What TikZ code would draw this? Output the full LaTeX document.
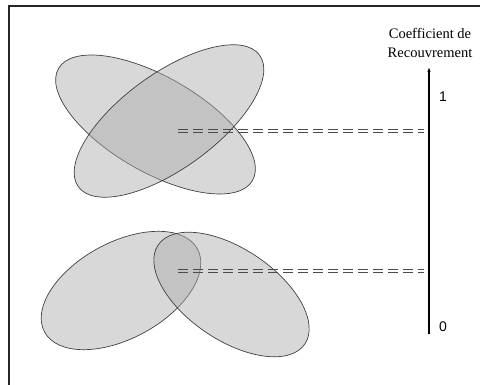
\documentclass[tikz,border=0pt]{standalone}
\usepackage{fontspec}
\setmainfont{Liberation Serif}
\setsansfont{Liberation Sans}
\usetikzlibrary{arrows.meta}
\definecolor{blobfill}{RGB}{170,170,170}
\definecolor{outline}{RGB}{65,65,65}
\definecolor{levelgray}{RGB}{75,75,75}
\tikzset{%
  blob/.style={draw=outline, line width=0.7pt, fill=blobfill, fill opacity=0.46},% overlapping set
  level/.style={draw=levelgray, line width=1pt, dash pattern=on 9.5pt off 5.5pt},% level line to the axis
  tick/.style={font=\sffamily\fontsize{14}{16}\selectfont},% value on the axis
  frame/.style={line width=2.4pt, black!85}% cut border of the figure
}

\begin{document}
\begin{tikzpicture}[x=1pt, y=-1pt]
\useasboundingbox (0,0) rectangle (480,385);
\draw[frame] (9,387) -- (9,6) -- (482,6);

% strong overlap
\draw[blob, shift={(155.5,124.5)}, rotate=-30] (0,0) ellipse [x radius=112, y radius=47.5];
\draw[blob, shift={(169,121)}, rotate=36] (0,0) ellipse [x radius=112, y radius=47.5];
% weak overlap
\draw[blob, shift={(121,290.5)}, rotate=28.5] (0,0) ellipse [x radius=87, y radius=48];
\draw[blob, shift={(231.5,294.5)}, rotate=-34] (0,0) ellipse [x radius=88.5, y radius=45.6];

\coordinate (hiL) at (178,131);
\coordinate (hiR) at (424,131);
\coordinate (loL) at (178,271);
\coordinate (loR) at (424,271);
\foreach \s in {-1.2,1.2}{
  \draw[level] ([yshift=\s pt]hiL) -- ([yshift=\s pt]hiR);
  \draw[level] ([yshift=\s pt]loL) -- ([yshift=\s pt]loR);
}

\coordinate (low) at (429,334);
\coordinate (high) at (429,67);
\draw[line width=1.2pt, -{Latex[length=5pt, width=3.5pt]}] (low) -- (high);
\node[tick] (one) at (443,96.5) {1};
\node[tick] (zero) at (443,327) {0};
\node[align=center, font=\fontsize{14.5}{19}\selectfont] (title) at (430,43) {Coefficient de\\Recouvrement};
\end{tikzpicture}
\end{document}
